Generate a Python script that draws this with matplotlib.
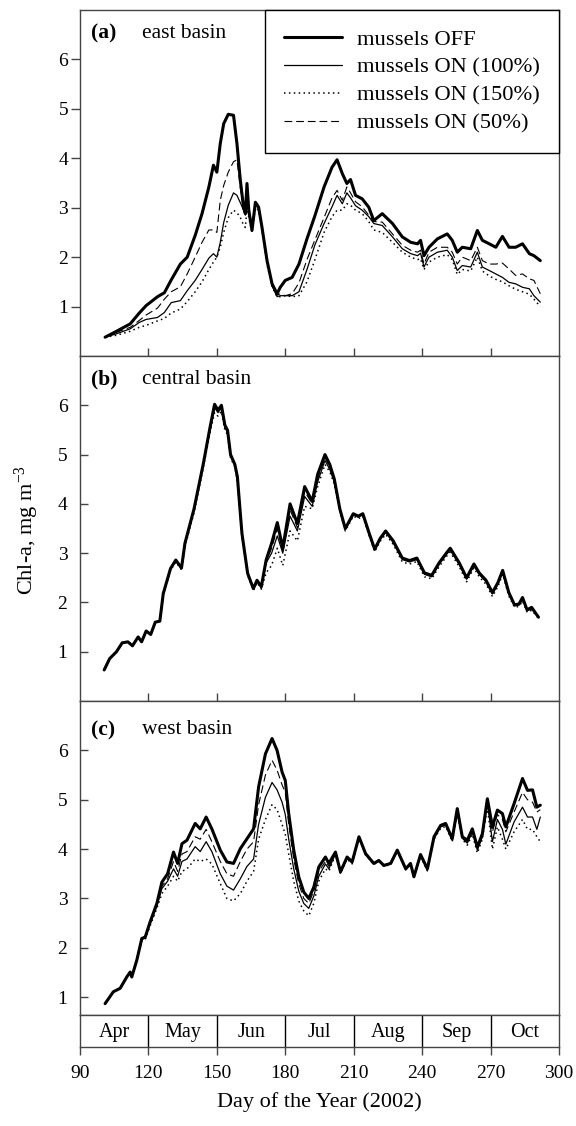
import matplotlib
matplotlib.use('Agg')
import matplotlib.pyplot as plt

plt.rcParams['font.family'] = ['Liberation Serif', 'DejaVu Serif']
plt.rcParams['mathtext.fontset'] = 'custom'
plt.rcParams['mathtext.rm'] = 'Liberation Serif'
plt.rcParams['mathtext.it'] = 'Liberation Serif:italic'

# ---- data ---------------------------------------------------------------
# (a) east basin
DAYS_A = [101, 106, 112, 116, 119, 124, 127, 130, 134, 137, 140.5, 143.5, 146.5, 148.5, 150,
          151.5, 153, 155, 157.3, 158.8, 160.3, 161.7, 162.5, 163.2, 164, 165.4, 166.9, 168.3,
          169.8, 172, 174.2, 176.4, 177.8, 180, 183, 186, 189.5, 193, 197, 200.5, 202.7, 205,
          207, 208.6, 210.8, 213.7, 216.6, 218.8, 222.5, 227, 231.3, 235, 238, 239.3, 240.8,
          243, 246.7, 251, 253.2, 255.4, 257.6, 261.3, 264.2, 266.4, 269.4, 272.3, 275.2,
          278.1, 281, 284, 287, 289, 291.8]
OFF_A = [0.38, 0.5, 0.65, 0.87, 1.02, 1.2, 1.28, 1.54, 1.86, 2.0, 2.44, 2.88, 3.42, 3.86, 3.72,
         4.3, 4.7, 4.89, 4.87, 4.3, 3.55, 3.01, 2.88, 3.49, 2.95, 2.54, 3.11, 3.01,
         2.6, 1.93, 1.46, 1.26, 1.39, 1.53, 1.59, 1.86, 2.37, 2.84, 3.42, 3.82, 3.97, 3.69,
         3.49, 3.57, 3.25, 3.18, 3.01, 2.74, 2.88, 2.68, 2.41, 2.3, 2.27, 2.34, 2.03,
         2.2, 2.37, 2.47, 2.34, 2.1, 2.2, 2.17, 2.54, 2.34, 2.27, 2.2, 2.42,
         2.2, 2.2, 2.27, 2.07, 2.03, 1.93]
ON100_A = [0.38, 0.45, 0.55, 0.68, 0.74, 0.78, 0.88, 1.08, 1.12, 1.32, 1.53, 1.75, 1.98, 2.07, 2.0,
           2.3, 2.7, 3.05, 3.3, 3.25, 3.1, 2.95, 2.85, 3.3, 2.9, 2.54, 3.08, 3.0,
           2.6, 1.9, 1.42, 1.2, 1.22, 1.22, 1.22, 1.3, 1.75, 2.25, 2.68, 3.02, 3.25, 3.08,
           3.3, 3.2, 3.04, 2.95, 2.82, 2.68, 2.64, 2.41, 2.17, 2.07, 2.03, 2.08, 1.8,
           2.0, 2.1, 2.14, 2.0, 1.73, 1.83, 1.8, 2.1, 1.8, 1.73, 1.66, 1.59,
           1.49, 1.46, 1.39, 1.36, 1.22, 1.09]
ON150_A = [0.38, 0.42, 0.5, 0.58, 0.62, 0.71, 0.76, 0.87, 0.95, 1.1, 1.3, 1.5, 1.75, 1.9, 2.0,
           2.2, 2.5, 2.8, 2.95, 2.9, 2.8, 2.65, 2.6, 3.0, 2.8, 2.5, 3.0, 2.95,
           2.55, 1.85, 1.4, 1.2, 1.2, 1.22, 1.2, 1.22, 1.5, 1.95, 2.5, 2.82, 2.95, 2.95,
           3.08, 3.05, 2.95, 2.88, 2.72, 2.55, 2.5, 2.3, 2.1, 2.0, 1.95, 1.97, 1.75,
           1.9, 2.0, 2.05, 1.95, 1.65, 1.75, 1.72, 2.0, 1.72, 1.62, 1.55, 1.5,
           1.42, 1.35, 1.3, 1.25, 1.15, 1.0]
ON50_A = [0.38, 0.48, 0.58, 0.72, 0.83, 0.97, 1.15, 1.3, 1.4, 1.66, 2.0, 2.3, 2.55, 2.55, 2.5,
          3.15, 3.45, 3.72, 3.93, 3.97, 3.4, 2.98, 2.87, 3.45, 2.93, 2.54, 3.1, 3.0,
          2.6, 1.92, 1.44, 1.23, 1.26, 1.22, 1.26, 1.48, 1.95, 2.35, 2.8, 3.2, 3.35, 3.15,
          3.42, 3.3, 3.12, 3.02, 2.85, 2.72, 2.71, 2.47, 2.24, 2.14, 2.1, 2.14, 1.86,
          2.1, 2.2, 2.2, 2.1, 1.86, 2.0, 1.93, 2.2, 1.93, 1.86, 1.86, 1.88,
          1.76, 1.63, 1.66, 1.56, 1.53, 1.26]

# (b) central basin
DAYS_B = [100.6, 103, 106, 108.5, 111, 113, 115.5, 117, 119, 121, 123, 125, 126.5, 129.7, 132,
          134.5, 136, 140, 144, 147, 149, 150.5, 152, 153.5, 154.7, 156, 157.9, 159, 161,
          163.5, 166, 167.6, 169.5, 171.6, 174, 176.5, 178.9, 182.1, 185.3, 188.5, 191.8,
          194.2, 197.4, 199.5, 201.5, 203.9, 206.3, 209.8, 212, 214, 216.8, 219.2, 221.6,
          224, 227.3, 231.3, 234.5, 237.7, 241, 244.2, 247.4, 250.6, 252.3, 256.3, 259.5,
          262.7, 265, 268, 270.8, 273.2, 275.3, 278, 280.5, 282.5, 284, 286, 288, 291]
OFF_B = [0.63, 0.86, 1.0, 1.18, 1.2, 1.12, 1.3, 1.2, 1.42, 1.35, 1.6, 1.62, 2.18, 2.69, 2.86,
         2.7, 3.2, 3.9, 4.8, 5.55, 6.02, 5.9, 6.0, 5.6, 5.49, 5.0, 4.8, 4.55, 3.4,
         2.59, 2.28, 2.45, 2.32, 2.86, 3.2, 3.62, 3.1, 4.0, 3.6, 4.35, 4.05,
         4.6, 5.0, 4.8, 4.5, 3.9, 3.5, 3.8, 3.75, 3.8, 3.4, 3.08, 3.3,
         3.45, 3.25, 2.9, 2.85, 2.9, 2.6, 2.55, 2.8, 3.0, 3.1, 2.8, 2.5,
         2.78, 2.6, 2.45, 2.2, 2.4, 2.65, 2.2, 1.95, 1.97, 2.1, 1.85, 1.9, 1.7]
ON100_B = [0.63, 0.86, 1.0, 1.18, 1.2, 1.12, 1.3, 1.2, 1.42, 1.35, 1.6, 1.62, 2.17, 2.67, 2.84,
           2.68, 3.17, 3.87, 4.77, 5.5, 5.95, 5.85, 5.95, 5.55, 5.45, 4.97, 4.78, 4.5, 3.38,
           2.57, 2.27, 2.43, 2.3, 2.8, 3.0, 3.35, 3.0, 3.75, 3.45, 4.15, 3.95,
           4.45, 4.88, 4.7, 4.45, 3.88, 3.48, 3.78, 3.73, 3.78, 3.38, 3.06, 3.28,
           3.42, 3.22, 2.87, 2.82, 2.87, 2.57, 2.52, 2.77, 2.97, 3.07, 2.77, 2.47,
           2.75, 2.57, 2.42, 2.17, 2.37, 2.62, 2.17, 1.93, 1.95, 2.07, 1.83, 1.87, 1.7]
ON150_B = [0.63, 0.86, 1.0, 1.18, 1.2, 1.12, 1.3, 1.2, 1.42, 1.35, 1.6, 1.62, 2.15, 2.65, 2.82,
           2.66, 3.13, 3.82, 4.72, 5.45, 5.85, 5.78, 5.88, 5.5, 5.4, 4.93, 4.75, 4.45, 3.35,
           2.55, 2.25, 2.4, 2.27, 2.6, 2.75, 3.1, 2.75, 3.45, 3.25, 3.95, 3.9,
           4.35, 4.8, 4.65, 4.4, 3.85, 3.45, 3.75, 3.7, 3.75, 3.35, 3.03, 3.24,
           3.38, 3.18, 2.82, 2.78, 2.83, 2.52, 2.48, 2.72, 2.93, 3.02, 2.72, 2.42,
           2.7, 2.52, 2.37, 2.12, 2.32, 2.57, 2.13, 1.9, 1.92, 2.03, 1.8, 1.84, 1.68]
ON50_B = [0.63, 0.86, 1.0, 1.18, 1.2, 1.12, 1.3, 1.2, 1.42, 1.35, 1.6, 1.62, 2.18, 2.68, 2.85,
          2.69, 3.18, 3.88, 4.78, 5.52, 5.98, 5.88, 5.98, 5.58, 5.47, 4.98, 4.79, 4.52, 3.39,
          2.58, 2.28, 2.44, 2.31, 2.83, 3.1, 3.5, 3.05, 3.88, 3.52, 4.25, 4.0,
          4.52, 4.94, 4.75, 4.47, 3.89, 3.49, 3.79, 3.74, 3.79, 3.39, 3.07, 3.29,
          3.44, 3.24, 2.89, 2.84, 2.89, 2.59, 2.54, 2.79, 2.99, 3.09, 2.79, 2.49,
          2.77, 2.59, 2.44, 2.19, 2.39, 2.64, 2.19, 1.94, 1.96, 2.09, 1.84, 1.89, 1.7]

# (c) west basin
DAYS_C = [101, 104.6, 107.6, 110.5, 112, 112.7, 114.9, 117.1, 118.6, 120.7, 123.7, 125.9,
          128.4, 131, 132.8, 134.7, 136.9, 140.5, 142.7, 145.3, 147.8, 151.5, 154.4, 157.3,
          160.3, 163.2, 166.1, 168.3, 171.3, 174.2, 176.4, 178.6, 180, 181.5, 183.7, 185.9,
          188.1, 190.3, 192.5, 194.7, 197.6, 199.1, 202, 204.2, 207.1, 209.3, 212.3, 215.2,
          218.8, 221, 223.2, 226.2, 229.1, 232.8, 234.9, 236.4, 239.3, 242.3, 245.2, 248.1,
          250.3, 253.2, 255.4, 257.6, 259.8, 262, 264.2, 266.4, 268.6, 270.8, 273, 275.2,
          276.7, 280.3, 284, 286.2, 288.4, 290.3, 291.8]
OFF_C = [0.87, 1.11, 1.18, 1.41, 1.51, 1.41, 1.75, 2.19, 2.22, 2.52, 2.9, 3.33,
         3.5, 3.94, 3.71, 4.11, 4.18, 4.52, 4.41, 4.65, 4.41, 3.98, 3.74, 3.71,
         4.01, 4.21, 4.41, 5.26, 5.93, 6.24, 6.0, 5.56, 5.39, 4.72, 3.98, 3.44,
         3.13, 3.0, 3.23, 3.64, 3.84, 3.71, 3.94, 3.54, 3.84, 3.74, 4.25, 3.91,
         3.71, 3.77, 3.67, 3.71, 3.98, 3.6, 3.71, 3.44, 3.89, 3.6, 4.25, 4.48,
         4.52, 4.21, 4.82, 4.25, 4.18, 4.41, 4.04, 4.31, 5.02, 4.45, 4.79, 4.72,
         4.45, 4.92, 5.43, 5.19, 5.2, 4.85, 4.89]
ON100_C = [0.87, 1.11, 1.18, 1.41, 1.51, 1.41, 1.75, 2.17, 2.2, 2.48, 2.85, 3.2,
           3.35, 3.6, 3.45, 3.75, 3.8, 4.05, 3.95, 4.15, 3.95, 3.5, 3.25, 3.17,
           3.4, 3.65, 3.8, 4.5, 5.05, 5.35, 5.2, 4.95, 4.7, 4.2, 3.6, 3.15,
           2.9, 2.8, 3.05, 3.45, 3.7, 3.6, 3.9, 3.52, 3.82, 3.72, 4.23, 3.89,
           3.7, 3.76, 3.66, 3.7, 3.97, 3.59, 3.7, 3.43, 3.87, 3.58, 4.22, 4.45,
           4.49, 4.18, 4.78, 4.22, 4.12, 4.35, 3.98, 4.25, 4.95, 4.15, 4.6, 4.4,
           4.1, 4.55, 4.85, 4.65, 4.65, 4.4, 4.65]
ON150_C = [0.87, 1.11, 1.18, 1.41, 1.51, 1.41, 1.75, 2.15, 2.17, 2.44, 2.8, 3.1,
           3.25, 3.45, 3.35, 3.55, 3.6, 3.8, 3.75, 3.8, 3.7, 3.3, 3.0, 2.95,
           3.1, 3.35, 3.55, 4.2, 4.6, 4.9, 4.8, 4.5, 4.3, 3.9, 3.35, 2.95,
           2.75, 2.65, 2.9, 3.35, 3.6, 3.55, 3.88, 3.5, 3.8, 3.7, 4.22, 3.88,
           3.69, 3.75, 3.65, 3.69, 3.96, 3.58, 3.69, 3.42, 3.85, 3.56, 4.2, 4.42,
           4.46, 4.15, 4.74, 4.2, 4.08, 4.3, 3.92, 4.2, 4.85, 4.0, 4.45, 4.2,
           4.0, 4.35, 4.6, 4.4, 4.4, 4.25, 4.15]
ON50_C = [0.87, 1.11, 1.18, 1.41, 1.51, 1.41, 1.75, 2.18, 2.21, 2.5, 2.88, 3.25,
          3.4, 3.75, 3.55, 3.9, 3.95, 4.25, 4.2, 4.4, 4.15, 3.75, 3.5, 3.45,
          3.75, 4.0, 4.15, 4.9, 5.5, 5.8, 5.6, 5.3, 5.15, 4.5, 3.8, 3.3,
          3.0, 2.9, 3.15, 3.55, 3.75, 3.65, 3.92, 3.53, 3.83, 3.73, 4.24, 3.9,
          3.7, 3.76, 3.66, 3.7, 3.97, 3.6, 3.7, 3.44, 3.88, 3.59, 4.24, 4.47,
          4.51, 4.2, 4.8, 4.24, 4.15, 4.38, 4.0, 4.28, 4.98, 4.35, 4.7, 4.6,
          4.35, 4.75, 5.15, 5.0, 4.95, 4.75, 4.8]

PANELS = [
    ('(a)', 'east basin', DAYS_A, OFF_A, ON100_A, ON150_A, ON50_A),
    ('(b)', 'central basin', DAYS_B, OFF_B, ON100_B, ON150_B, ON50_B),
    ('(c)', 'west basin', DAYS_C, OFF_C, ON100_C, ON150_C, ON50_C),
]
SERIES_LABELS = ['mussels OFF', 'mussels ON (100%)', 'mussels ON (150%)', 'mussels ON (50%)']
MONTHS = ['Apr', 'May', 'Jun', 'Jul', 'Aug', 'Sep', 'Oct']
MONTH_EDGES = [90, 120, 150, 180, 210, 240, 270, 300]
X_TICKS = [90, 120, 150, 180, 210, 240, 270, 300]
Y_TICKS = [1, 2, 3, 4, 5, 6]

# ---- layout (figure fractions) ----------------------------------------------
W, H = 576, 1126
left = 80 / W
width = (559 - 80) / W
panel_px = [(10, 356), (356, 701), (701, 1015)]
month_px = (1015, 1047)

fig = plt.figure(figsize=(W / 100, H / 100), dpi=100)

styles = [
    dict(color='black', lw=2.2, ls='-'),
    dict(color='black', lw=0.9, ls='-'),
    dict(color='black', lw=1.1, ls=(0, (1, 2.2))),
    dict(color='black', lw=0.8, ls=(0, (7, 3.5))),
]
spine_col = '#444444'

axes = []
for i, (tag, name, days, *series) in enumerate(PANELS):
    top, bot = panel_px[i]
    ax = fig.add_axes([left, 1 - bot / H, width, (bot - top) / H])
    axes.append(ax)
    for vals, st, lab in zip(series, styles, SERIES_LABELS):
        ax.plot(days, vals, label=lab, solid_capstyle='round', **st)
    ax.set_xlim(90, 300)
    ax.set_ylim(0.64 if i == 2 else 0, 7)
    ax.set_yticks(Y_TICKS)
    ax.set_xticks(X_TICKS[1:-1])
    ax.tick_params(axis='x', direction='in', length=6, width=1, color=spine_col,
                   labelbottom=False, bottom=(i < 2))
    if i == 0:
        ax.tick_params(axis='y', direction='out', length=6.5, width=1, pad=2,
                       labelsize=14, color=spine_col)
    else:
        ax.tick_params(axis='y', direction='in', length=6, width=1, pad=9,
                       labelsize=14, color=spine_col)
    for sp in ax.spines.values():
        sp.set_color(spine_col)
        sp.set_linewidth(1.0)
    ty = 1 - (23 if i < 2 else 29) / (bot - top)
    ax.text(0.022, ty, tag, transform=ax.transAxes, fontsize=15.5, fontweight='bold',
            va='center', ha='left')
    ax.text(0.13, ty, name, transform=ax.transAxes, fontsize=15.5, va='center', ha='left')

leg = axes[0].legend(loc='upper right', bbox_to_anchor=(1, 1), borderaxespad=0,
                     fancybox=False, edgecolor='black', fontsize=16.2, handlelength=2.6,
                     handletextpad=0.65, labelspacing=0.32, borderpad=0.85, framealpha=1)
leg.get_frame().set_linewidth(1.0)

# month bar
mtop, mbot = month_px
axm = fig.add_axes([left, 1 - mbot / H, width, (mbot - mtop) / H])
axm.set_xlim(90, 300)
axm.set_ylim(0, 1)
for e in MONTH_EDGES[1:-1]:
    axm.axvline(e, color='black', lw=1.0)
for m, a, b in zip(MONTHS, MONTH_EDGES[:-1], MONTH_EDGES[1:]):
    axm.text((a + b) / 2, 0.45, m, ha='center', va='center', fontsize=14.5)
axm.set_yticks([])
axm.set_xticks(X_TICKS)
axm.tick_params(axis='x', direction='out', length=6, width=1, pad=7,
                labelsize=14, color=spine_col)
for sp in axm.spines.values():
    sp.set_color(spine_col)
    sp.set_linewidth(1.0)

fig.text(319.5 / W, 1 - 1102 / H, 'Day of the Year (2002)', ha='center', va='center',
         fontsize=16)
fig.text(27 / W, 1 - 530 / H, 'Chl-a, mg m$^{-3}$', ha='center', va='center',
         rotation=90, fontsize=16)

fig.savefig('out.png', dpi=100)
